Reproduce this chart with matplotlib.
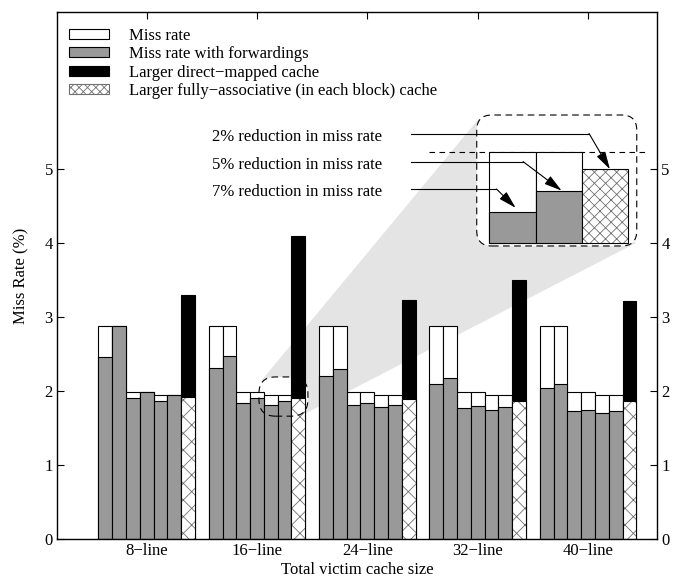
import matplotlib
matplotlib.use('Agg')
import matplotlib.pyplot as plt
from matplotlib.patches import Patch, FancyBboxPatch, Polygon
import numpy as np

plt.rcParams['font.family'] = ['Liberation Serif', 'DejaVu Serif']
plt.rcParams['font.size'] = 12
plt.rcParams['hatch.linewidth'] = 0.6

# data
groups = ['8\u2212line', '16\u2212line', '24\u2212line', '32\u2212line', '40\u2212line']
miss_rate = [
    [2.88, 2.88, 1.98, 1.98, 1.95, 1.95],
    [2.88, 2.88, 1.98, 1.98, 1.95, 1.95],
    [2.88, 2.88, 1.98, 1.98, 1.95, 1.95],
    [2.88, 2.88, 1.98, 1.98, 1.95, 1.95],
    [2.88, 2.88, 1.98, 1.98, 1.95, 1.95],
]
with_fwd = [
    [2.46, 2.88, 1.90, 1.98, 1.87, 1.95],
    [2.31, 2.47, 1.84, 1.90, 1.81, 1.86],
    [2.20, 2.30, 1.81, 1.84, 1.78, 1.81],
    [2.10, 2.17, 1.77, 1.80, 1.74, 1.78],
    [2.04, 2.09, 1.73, 1.75, 1.70, 1.73],
]
larger_direct = [3.30, 4.10, 3.23, 3.50, 3.21]
larger_fully = [1.92, 1.91, 1.89, 1.87, 1.86]
legend_labels = ['Miss rate', 'Miss rate with forwardings',
                 'Larger direct\u2212mapped cache',
                 'Larger fully\u2212associative (in each block) cache']
notes = ['2% reduction in miss rate', '5% reduction in miss rate',
         '7% reduction in miss rate']

GRAY = '#999999'
HATCH_EC = '#707070'
LW = 0.8
slot = 8

fig = plt.figure(figsize=(6.77, 5.79), dpi=100)
ax = fig.add_axes([0.0842, 0.0691, 0.8863, 0.9099])

for g in range(len(groups)):
    c = g * slot
    xs = c + np.arange(-3, 3)
    ax.bar(xs, miss_rate[g], width=1, color='white', edgecolor='k', lw=LW, zorder=2)
    ax.bar(xs, with_fwd[g], width=1, color=GRAY, edgecolor='k', lw=LW, zorder=2)
    ax.bar(c + 3, larger_direct[g], width=1, color='k', edgecolor='k', lw=LW, zorder=2)
    ax.bar(c + 3, larger_fully[g], width=1, color='white', edgecolor=HATCH_EC,
           hatch='xx', lw=0, zorder=2)
    ax.bar(c + 3, larger_fully[g], width=1, fill=False, edgecolor='k', lw=LW, zorder=2)

ax.set_xlim(-6.5, 37)
ax.set_ylim(0, 7.12)
ax.set_xticks([g * slot for g in range(len(groups))], groups)
ax.set_yticks(range(6))
ax.tick_params(direction='in', top=True, right=True, labelright=True, length=5, pad=3)
for s in ax.spines.values():
    s.set_linewidth(1.0)
ax.set_xlabel('Total victim cache size', labelpad=2)
ax.set_ylabel('Miss Rate (%)', labelpad=11)

# zoom decoration: small box around the 16-line bars, big box with the enlarged view
asp = 13.8 / 74.0
sx0, sy0, sx1, sy1 = 8.14, 1.66, 11.69, 2.19
bx0, by0, bx1, by1 = 23.93, 3.96, 35.53, 5.73
ax.add_patch(Polygon([(sx0 + 0.22, sy1 - 0.04), (bx0 + 0.15, by1 - 0.05),
                      (bx1 - 0.07, by0 + 0.04), (sx1 - 0.14, sy0 + 0.04)],
                     closed=True, fc='#e4e4e4', ec='none', zorder=0.5))
for (x0, y0, x1, y1), r, zf, zl in [((sx0, sy0, sx1, sy1), 1.2, 0.6, 3),
                                    ((bx0, by0, bx1, by1), 1.1, 4, 6)]:
    bs = 'round,pad=0,rounding_size=%g' % r
    ax.add_patch(FancyBboxPatch((x0, y0), x1 - x0, y1 - y0, boxstyle=bs,
                                mutation_aspect=asp, fc='white', ec='none', zorder=zf))
    ax.add_patch(FancyBboxPatch((x0, y0), x1 - x0, y1 - y0, boxstyle=bs,
                                mutation_aspect=asp, fill=False, ec='k', lw=LW,
                                ls=(0, (6, 4)), zorder=zl))

base = 1.738
top = miss_rate[1][4]
ax_in = ax.inset_axes([24.83, 4.0, 10.1, 1.23], transform=ax.transData, zorder=5)
ax_in.set_xlim(-0.5, 2.5)
ax_in.set_ylim(base, top)
ax_in.axis('off')
ax_in.plot([-1.8, 2.87], [top, top], color='k', lw=LW, ls=(0, (5, 4)), clip_on=False, zorder=1)
zm = miss_rate[1][4:6]
zf = with_fwd[1][4:6]
ax_in.bar([0, 1], [v - base for v in zm], bottom=base, width=1, color='white',
          edgecolor='k', lw=LW, clip_on=False, zorder=2)
ax_in.bar([0, 1], [v - base for v in zf], bottom=base, width=1, color=GRAY,
          edgecolor='k', lw=LW, clip_on=False, zorder=2)
ax_in.bar(2, larger_fully[1] - base, bottom=base, width=1, color='white',
          edgecolor=HATCH_EC, hatch='xxx', lw=0, clip_on=False, zorder=2)
ax_in.bar(2, larger_fully[1] - base, bottom=base, width=1, fill=False,
          edgecolor='k', lw=LW, clip_on=False, zorder=2)

# notes with arrows
line_y = [5.48, 5.10, 4.73]
bend_x = [32.07, 27.29, 25.36]
tips = [(2.1, larger_fully[1]), (1.06, zf[1]), (0.07, zf[0] + 0.01)]
for t, ly, bx, tip in zip(notes, line_y, bend_x, tips):
    ax.text(4.71, ly - 0.045, t, va='center', ha='left', zorder=6)
    ax.plot([19.15, bx], [ly, ly], color='k', lw=LW, zorder=6)
    ax_in.annotate('', xy=tip, xycoords='data', xytext=(bx, ly), textcoords=ax.transData,
                   arrowprops=dict(arrowstyle='-|>,head_length=0.9,head_width=0.25',
                                   color='k', lw=LW, shrinkA=0, shrinkB=0),
                   annotation_clip=False, zorder=7)

handles = [Patch(fc='white', ec='k', lw=LW), Patch(fc=GRAY, ec='k', lw=LW),
           Patch(fc='k', ec='k', lw=LW), Patch(fc='white', ec=HATCH_EC, hatch='xxxx', lw=LW)]
ax.legend(handles, legend_labels, loc='upper left', bbox_to_anchor=(0.02, 0.97),
          frameon=False, handlelength=2.4, handleheight=0.55, handletextpad=1.2,
          labelspacing=0.14, borderpad=0, borderaxespad=0)

fig.savefig('out.png', dpi=100)
